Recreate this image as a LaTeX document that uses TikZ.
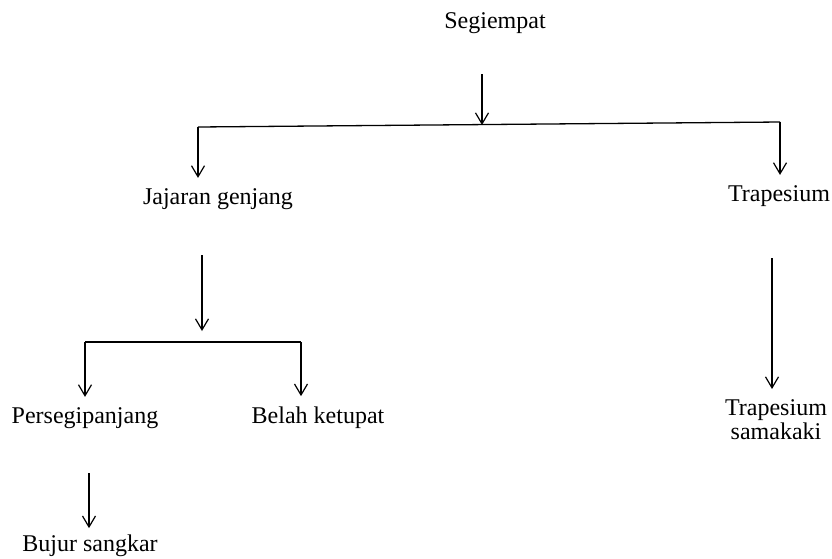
\documentclass[tikz,border=0pt]{standalone}
\usepackage{fontspec}
\setmainfont{Liberation Serif}
\usetikzlibrary{arrows.meta}
\begin{document}
\begin{tikzpicture}[x=1pt,y=-1pt,
  lbl/.style={font=\fontsize{24}{24}\selectfont, inner xsep=1pt, inner ysep=10pt,
    anchor=base, align=center},
  link/.style={line width=1.3pt, black},
  arr/.style={link, -{Straight Barb[length=11pt,width=13pt,line width=1.2pt]}}]
  \useasboundingbox (0,0) rectangle (832,558);
  % labels (placed by their baselines)
  \node[lbl] (seg)  at (495,28)  {Segiempat};
  \node[lbl] (jg)   at (218,204) {Jajaran genjang};
  \node[lbl] (trap) at (779,201) {Trapesium};
  \node[lbl] (pp)   at (85,423)  {Persegipanjang};
  \node[lbl] (bk)   at (318,423) {Belah ketupat};
  \node[lbl, anchor=north] (ts) at (776,389) {Trapesium\\samakaki};
  \node[lbl, inner ysep=6pt] (bs) at (90,551) {Bujur sangkar};
  % first level: Segiempat splits into two branches
  \coordinate (s0) at (482,74);
  \coordinate (s1) at (482,125);
  \coordinate (jl) at (198,127);
  \coordinate (jr) at (780,122);
  \draw[arr] (s0) -- (s1);
  \draw[link] (jl) -- (jr);
  \draw[arr] (jl) -- (jl |- jg.north);
  \draw[arr] (jr) -- (jr |- trap.north);
  % second level under Jajaran genjang
  \coordinate (g0) at (202,255);
  \coordinate (g1) at (202,331);
  \coordinate (gl) at (85,342);
  \coordinate (gr) at (301,342);
  \draw[arr] (g0) -- (g1);
  \draw[link] (gl) -- (gr);
  \draw[arr] (gl) -- (gl |- pp.north);
  \draw[arr] (gr) -- (gr |- bk.north);
  % single chains
  \coordinate (t0) at (772,258);
  \draw[arr] (t0) -- (t0 |- ts.north);
  \coordinate (p0) at (89,473);
  \draw[arr] (p0) -- (p0 |- bs.north);
\end{tikzpicture}
\end{document}
